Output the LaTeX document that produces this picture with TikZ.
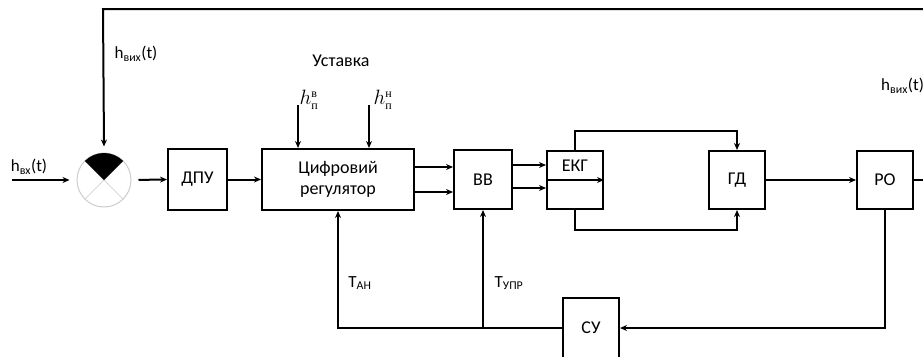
\documentclass[tikz,border=0pt]{standalone}
\usepackage{fontspec}
\setmainfont{Carlito}
\newfontfamily\serifcyr{Liberation Serif}
\usetikzlibrary{arrows.meta}
\newcommand{\hsym}[1]{$h^{\hbox{\serifcyr\fontsize{12}{12}\selectfont #1}}_{\hbox{\serifcyr\fontsize{12}{12}\selectfont п}}$}
\begin{document}
\begin{tikzpicture}[x=1pt,y=-1pt,
  blk/.style={draw, line width=2pt, inner sep=0pt, minimum width=56pt, minimum height=58pt, font=\fontsize{18}{21}\selectfont, align=center},
  ln/.style={line width=2pt},
  arr/.style={ln, -{Stealth[length=7pt,width=6pt]}},
  lbl/.style={font=\fontsize{17}{19}\selectfont, inner sep=0pt}]
\useasboundingbox (0,0) rectangle (923,356);
\clip (0,0) rectangle (923,356);
% summing junction
\node[circle, draw=gray!40, line width=1pt, minimum size=54pt, inner sep=0pt] (sum) at (104,180) {};
\draw[gray!30, line width=1pt] (sum.45) -- (sum.225) (sum.135) -- (sum.315);
\begin{scope}[shift={(sum.center)}, x=1pt, y=1pt]
  \fill (0,0) -- (45:27) arc[start angle=45, end angle=135, radius=27] -- cycle;
\end{scope}
% blocks
\node[blk, minimum width=59pt, minimum height=61pt] (dpu) at (197.5,179.5) {ДПУ};
\node[blk, minimum width=152pt, minimum height=61pt] (reg) at (338,179.5) {Цифровий\\регулятор};
\node[blk, minimum width=58pt, minimum height=59pt] (vv) at (483,179.5) {ВВ};
\node[blk] (ekg) at (575,180) {};
\node[lbl, font=\fontsize{18}{21}\selectfont] (ekgt) at (575,166) {ЕКГ};
\node[blk] (gd) at (737,180) {ГД};
\node[blk] (ro) at (885,180) {РО};
\node[blk, minimum height=60pt] (su) at (591,328) {СУ};
% labels
\node[lbl] (hvx) at (29,167) {h\textsubscript{вх}(t)};
\node[lbl] (hvyx) at (136,54) {h\textsubscript{вих}(t)};
\node[lbl, anchor=west] (hvyx2) at (881,86) {h\textsubscript{вих}(t)};
\node[lbl, font=\fontsize{18}{20}\selectfont] (ust) at (341,61) {Уставка};
\node[lbl, font=\fontsize{21}{23}\selectfont] (hv) at (309,100) {\hsym{в}};
\node[lbl, font=\fontsize{21}{23}\selectfont] (hn) at (383,100) {\hsym{н}};
\node[lbl] (tan) at (360,283) {Т\textsubscript{АН}};
\node[lbl] (tupr) at (509,283) {Т\textsubscript{УПР}};
% coordinates
\coordinate (in) at (12,180);
\coordinate (tl) at (103,9);
\coordinate (tr) at (930,9);
\coordinate (out) at (930,180);
\coordinate (sv) at (298,105);
\coordinate (sn) at (369,105);
% connectors
\draw[arr, shorten >=7pt] (in) -- (sum.west);
\draw[arr] (tr) -- (tl) -- ([yshift=6pt]sum.north);
\draw[arr, shorten <=7pt] (sum.east) -- (dpu.west);
\draw[arr] (dpu.east) -- (reg.west);
\draw[arr] (sv) -- (sv |- reg.north);
\draw[arr] (sn) -- (sn |- reg.north);
\draw[arr] ([yshift=12.5pt]reg.east) -- ([yshift=12.5pt]vv.west);
\draw[arr] ([yshift=-12.5pt]reg.east) -- ([yshift=-12.5pt]vv.west);
\draw[arr] ([yshift=14.5pt]vv.east) -- ([yshift=15pt]ekg.west);
\draw[arr] ([yshift=-8.5pt]vv.east) -- ([yshift=-8pt]ekg.west);
\draw[arr] (ekg.west) -- (ekg.east);
\draw[arr] (ekg.north) |- ([yshift=19pt]gd.north) -- (gd.north);
\draw[arr] (ekg.south) |- ([yshift=-20pt]gd.south) -- (gd.south);
\draw[arr] (gd.east) -- (ro.west);
\draw[ln] (ro.east) -- (out);
\draw[arr] (ro.south) |- (su.east);
\draw[arr] (su.west) -| (reg.south);
\draw[arr] (vv.south |- su.west) -- (vv.south);
\end{tikzpicture}
\end{document}
